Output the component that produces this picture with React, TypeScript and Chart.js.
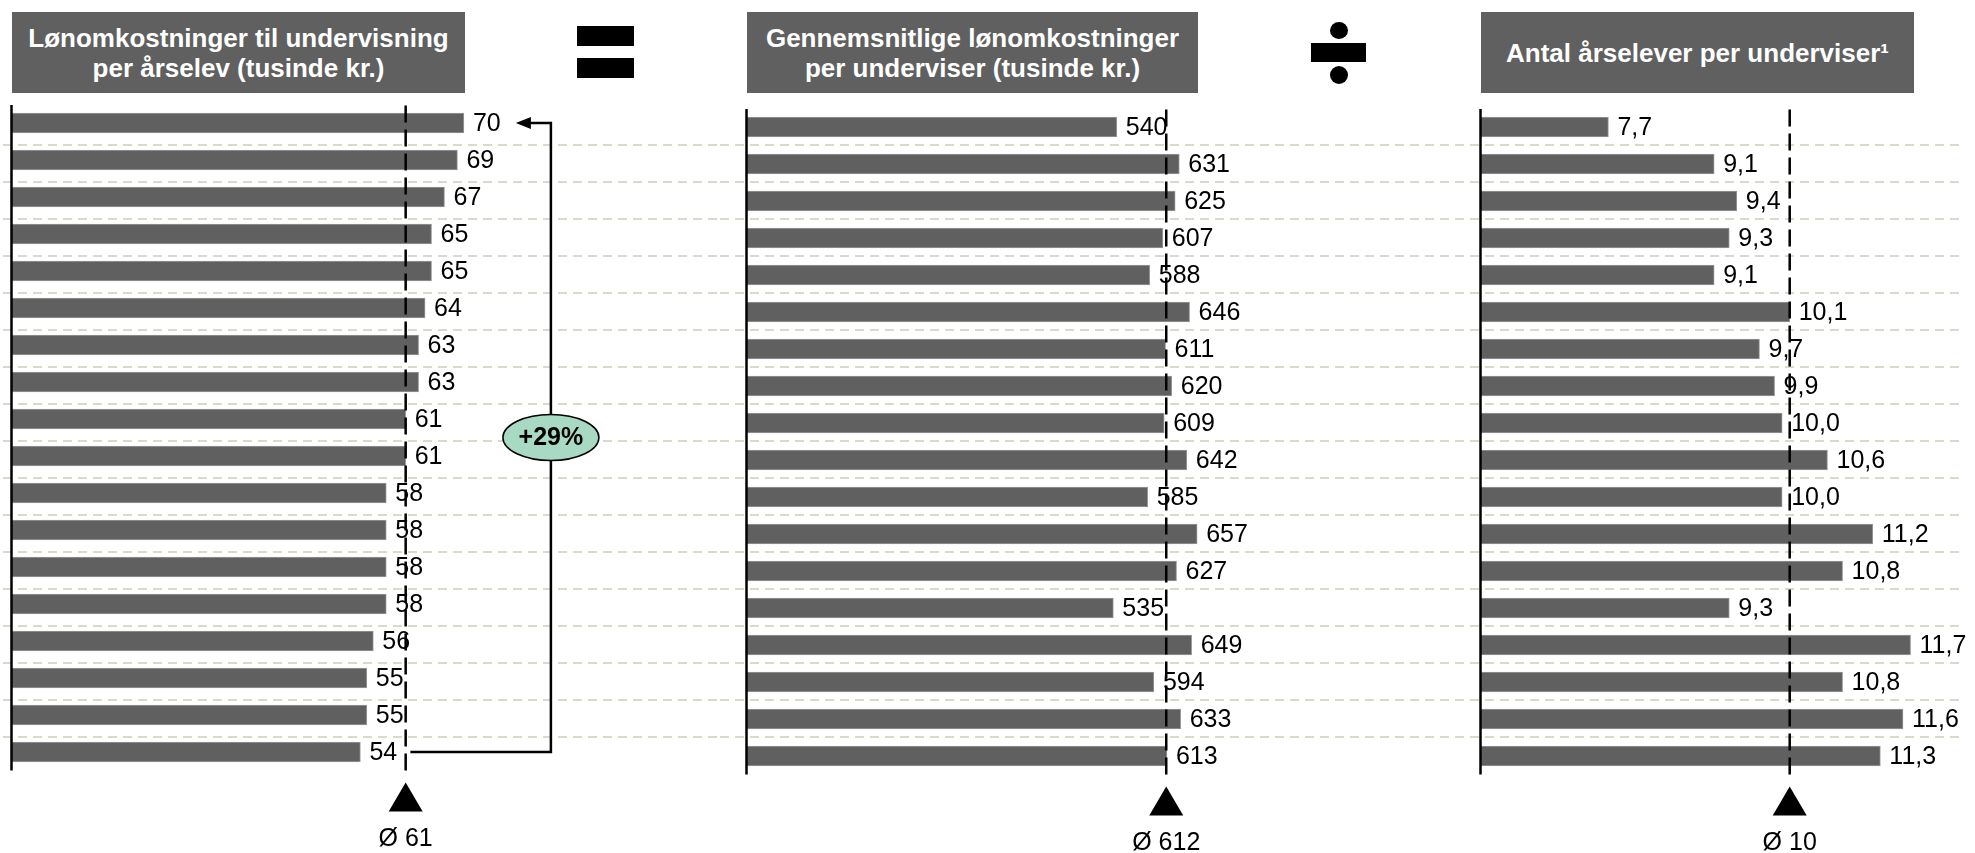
import React, { useEffect, useRef } from "react";
import { Chart, registerables } from "chart.js";

Chart.register(...registerables);

// ---------- data ----------
const schools = ["1", "2", "3", "4", "5", "6", "7", "8", "9", "10", "11", "12", "13", "14", "15", "16", "17", "18"];
const costPerStudent = [70, 69, 67, 65, 65, 64, 63, 63, 61, 61, 58, 58, 58, 58, 56, 55, 55, 54];
const salaryPerTeacher = [540, 631, 625, 607, 588, 646, 611, 620, 609, 642, 585, 657, 627, 535, 649, 594, 633, 613];
const studentsPerTeacher = [7.7, 9.1, 9.4, 9.3, 9.1, 10.1, 9.7, 9.9, 10.0, 10.6, 10.0, 11.2, 10.8, 9.3, 11.7, 10.8, 11.6, 11.3];
const averageValues = [61, 612, 10.1];
const averageLabels = ["Ø 61", "Ø 612", "Ø 10"];
const panelTitles = [
  ["Lønomkostninger til undervisning", "per årselev (tusinde kr.)"],
  ["Gennemsnitlige lønomkostninger", "per underviser (tusinde kr.)"],
  ["Antal årselever per underviser¹"],
];
const spreadLabel = "+29%";
const axisMin = [0, 0, 6];
const axisMax = [100, 900, 12.5];
const labelDecimals = [0, 0, 1];
const seriesList = [costPerStudent, salaryPerTeacher, studentsPerTeacher];

// ---------- styling / layout ----------
const FONT = '"Liberation Sans", Arial, Helvetica, sans-serif';
const BAR = "#606060";
const GRID = "#dcd8cb";
const layouts = [
  { left: 0, width: 720, pad: { left: 11, right: 62, top: 104.5, bottom: 82.5 }, gridFrom: 3, gridTo: 720, gridShift: 3 },
  { left: 720, width: 720, pad: { left: 26, right: 76, top: 108.5, bottom: 78.5 }, gridFrom: 0, gridTo: 720, gridShift: -1 },
  { left: 1440, width: 535, pad: { left: 40, right: 4, top: 108.5, bottom: 78.5 }, gridFrom: 0, gridTo: 523, gridShift: -1 },
];
const titleBoxes = [
  { left: 12, width: 453 },
  { left: 747, width: 451 },
  { left: 1481, width: 433 },
];

function fmt(v: number, d: number) {
  return v.toFixed(d).replace(".", ",");
}

function makePlugin(idx: number) {
  const L = layouts[idx];
  return {
    id: "panelDecor" + idx,
    beforeDatasetsDraw(chart: any) {
      const { ctx, scales } = chart;
      const ys = scales.y;
      ctx.save();
      ctx.strokeStyle = GRID;
      ctx.lineWidth = 2;
      ctx.setLineDash([9, 6]);
      for (let i = 0; i < schools.length - 1; i++) {
        const yy = Math.round((ys.getPixelForValue(i) + ys.getPixelForValue(i + 1)) / 2 + L.gridShift);
        ctx.beginPath();
        ctx.moveTo(L.gridFrom, yy);
        ctx.lineTo(L.gridTo, yy);
        ctx.stroke();
      }
      ctx.restore();
    },
    afterDatasetsDraw(chart: any) {
      const { ctx, chartArea, scales } = chart;
      const xs = scales.x;
      const meta = chart.getDatasetMeta(0);
      const values = seriesList[idx];
      ctx.save();
      // axis line
      ctx.strokeStyle = "#000";
      ctx.lineWidth = 2.5;
      ctx.setLineDash([]);
      ctx.beginPath();
      ctx.moveTo(chartArea.left + 0.5, chartArea.top + 0.5);
      ctx.lineTo(chartArea.left + 0.5, chartArea.bottom);
      ctx.stroke();
      // average line
      const ax = xs.getPixelForValue(averageValues[idx]);
      ctx.setLineDash([17, 7]);
      ctx.lineWidth = 2.5;
      ctx.beginPath();
      ctx.moveTo(ax, chartArea.top + 1);
      ctx.lineTo(ax, chartArea.bottom);
      ctx.stroke();
      ctx.setLineDash([]);
      // value labels
      ctx.fillStyle = "#000";
      ctx.font = `25px ${FONT}`;
      ctx.textAlign = "left";
      ctx.textBaseline = "middle";
      meta.data.forEach((bar: any, i: number) => {
        ctx.fillText(fmt(values[i], labelDecimals[idx]), bar.x + 9, bar.y + 1);
      });
      // triangle + average label
      const b = chartArea.bottom;
      ctx.beginPath();
      ctx.moveTo(ax, b + 12);
      ctx.lineTo(ax - 17, b + 41);
      ctx.lineTo(ax + 17, b + 41);
      ctx.closePath();
      ctx.fill();
      ctx.textAlign = "center";
      ctx.fillText(averageLabels[idx], ax, b + 69);

      if (idx === 0) {
        const first = meta.data[0];
        const last = meta.data[meta.data.length - 1];
        const topX = first.x;
        const tipX = topX + 52;
        const bracketX = topX + 87;
        const endX = last.x + 50;
        const yTop = first.y;
        const yBot = last.y;
        ctx.strokeStyle = "#000";
        ctx.lineWidth = 2.5;
        ctx.beginPath();
        ctx.moveTo(tipX + 12, yTop);
        ctx.lineTo(bracketX, yTop);
        ctx.lineTo(bracketX, yBot);
        ctx.lineTo(endX, yBot);
        ctx.stroke();
        // arrow head
        ctx.beginPath();
        ctx.moveTo(tipX, yTop);
        ctx.lineTo(tipX + 15, yTop - 6);
        ctx.lineTo(tipX + 15, yTop + 6);
        ctx.closePath();
        ctx.fill();
        // ellipse badge
        const cy = (yTop + yBot) / 2;
        ctx.beginPath();
        ctx.ellipse(bracketX, cy, 48, 23, 0, 0, Math.PI * 2);
        ctx.fillStyle = "#a7d9c3";
        ctx.fill();
        ctx.lineWidth = 1.5;
        ctx.strokeStyle = "#000";
        ctx.stroke();
        ctx.fillStyle = "#000";
        ctx.font = `bold 25px ${FONT}`;
        ctx.textAlign = "center";
        ctx.textBaseline = "middle";
        ctx.fillText(spreadLabel, bracketX, cy + 1);
      }
      ctx.restore();
    },
  };
}

function Panel({ idx }: { idx: number }) {
  const ref = useRef<HTMLCanvasElement>(null);
  const L = layouts[idx];
  useEffect(() => {
    if (!ref.current) return;
    const chart = new Chart(ref.current, {
      type: "bar",
      data: {
        labels: schools,
        datasets: [
          {
            data: seriesList[idx],
            backgroundColor: BAR,
            borderColor: "#9a9a9a",
            borderWidth: 1,
            barThickness: 20,
          },
        ],
      },
      options: {
        indexAxis: "y",
        animation: false,
        responsive: false,
        maintainAspectRatio: false,
        layout: { padding: L.pad },
        scales: {
          x: { display: false, min: axisMin[idx], max: axisMax[idx] },
          y: { display: false, offset: true },
        },
        plugins: {
          legend: { display: false },
          tooltip: { enabled: false },
          title: { display: false },
        },
      },
      plugins: [makePlugin(idx)],
    } as any);
    return () => chart.destroy();
  }, []);
  return (
    <canvas
      ref={ref}
      width={L.width}
      height={853}
      style={{ position: "absolute", left: L.left, top: 0, width: L.width, height: 853 }}
    />
  );
}

export default function App() {
  return (
    <div
      style={{
        position: "fixed",
        left: 0,
        top: 0,
        width: 1975,
        height: 853,
        background: "#fff",
        overflow: "hidden",
        fontFamily: FONT,
      }}
    >
      {[0, 1, 2].map((i) => (
        <Panel key={i} idx={i} />
      ))}
      {panelTitles.map((lines, i) => (
        <div
          key={"t" + i}
          style={{
            position: "absolute",
            left: titleBoxes[i].left,
            top: 12,
            width: titleBoxes[i].width,
            height: 81,
            background: BAR,
            color: "#fff",
            fontWeight: "bold",
            fontSize: 26,
            lineHeight: "30px",
            display: "flex",
            flexDirection: "column",
            alignItems: "center",
            justifyContent: "center",
            textAlign: "center",
            whiteSpace: "nowrap",
          }}
        >
          {lines.map((ln, j) => (
            <div key={j}>{ln}</div>
          ))}
        </div>
      ))}
      {/* equals sign */}
      <div style={{ position: "absolute", left: 577, top: 26, width: 57, height: 20, background: "#000" }} />
      <div style={{ position: "absolute", left: 577, top: 58, width: 57, height: 20, background: "#000" }} />
      {/* division sign */}
      <div style={{ position: "absolute", left: 1311, top: 43, width: 55, height: 19, background: "#000" }} />
      <div style={{ position: "absolute", left: 1330, top: 22, width: 18, height: 17, borderRadius: "50%", background: "#000" }} />
      <div style={{ position: "absolute", left: 1330, top: 66, width: 18, height: 18, borderRadius: "50%", background: "#000" }} />
    </div>
  );
}
